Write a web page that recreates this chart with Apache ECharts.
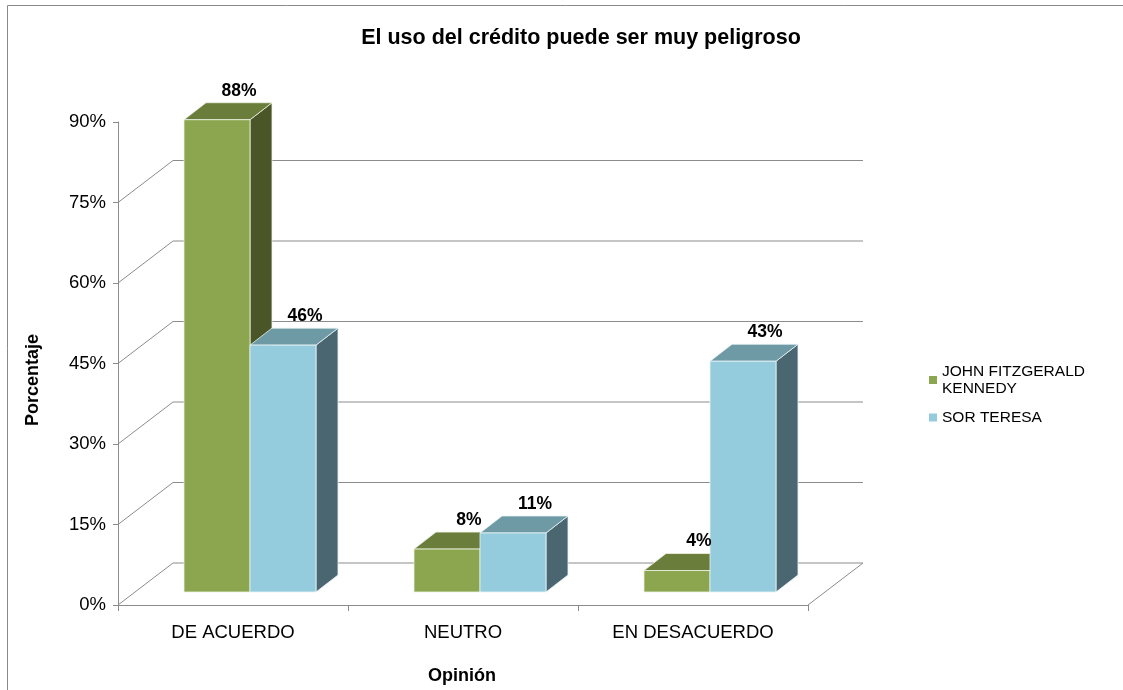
<!DOCTYPE html>
<html>
<head>
<meta charset="utf-8">
<title>El uso del crédito puede ser muy peligroso</title>
<script src="https://cdn.jsdelivr.net/npm/echarts@6/dist/echarts.min.js"></script>
<style>
    html, body { margin: 0; padding: 0; background: #fff; }
    #chart { width: 1123px; height: 690px; }
</style>
</head>
<body>
<div id="chart"></div>
<script>
var categories = ['DE ACUERDO', 'NEUTRO', 'EN DESACUERDO'];
var seriesNames = ['JOHN FITZGERALD KENNEDY', 'SOR TERESA'];
var kennedyValues = [88, 8, 4];
var teresaValues = [46, 11, 43];
var yTicks = [0, 15, 30, 45, 60, 75];

// depth of the 3d box (pixels)
var WALL_DX = 55, WALL_DY = -42;
var BAR_FRONT_DX = 17, BAR_FRONT_DY = -13;
var BAR_DX = 22, BAR_DY = -17;
var BAR_RATIO = 0.287;
var FONT = '"Liberation Sans", Arial, sans-serif';

var faces = [
    {front: '#8BA64F', top: '#6B7D3A', side: '#4A5628', edge: '#EEF3E6'},
    {front: '#94CCDD', top: '#6E9AA6', side: '#4A6670', edge: '#EAF4F7'}
];

var myChart = echarts.init(document.getElementById('chart'));

function renderWall(params, api) {
    var cs = params.coordSys;
    var v = api.value(1);
    var y = api.coord([0, v])[1];
    var x = cs.x;
    var children = [{
        type: 'polyline',
        shape: {points: [[x, y], [x + WALL_DX, y + WALL_DY], [x + cs.width + WALL_DX, y + WALL_DY]]},
        style: {stroke: '#8c8c8c', lineWidth: 1, fill: null}
    }];
    if (v === 0) {
        children.push({
            type: 'line',
            shape: {x1: x + cs.width, y1: y, x2: x + cs.width + WALL_DX, y2: y + WALL_DY},
            style: {stroke: '#8c8c8c', lineWidth: 1}
        });
    }
    return {type: 'group', children: children};
}

function makeBarRenderer(idx) {
    return function (params, api) {
        var f = faces[idx];
        var i = api.value(0);
        var v = api.value(1);
        var center = api.coord([i, 0]);
        var w = api.size([1, 0])[0] * BAR_RATIO;
        var x0 = center[0] + BAR_FRONT_DX + (idx === 0 ? -w : 0);
        var x1 = x0 + w;
        var yBot = center[1] + BAR_FRONT_DY;
        var yTop = api.coord([i, v])[1] + BAR_FRONT_DY;
        return {
            type: 'group',
            children: [
                {
                    type: 'polygon',
                    shape: {points: [[x1, yTop], [x1 + BAR_DX, yTop + BAR_DY], [x1 + BAR_DX, yBot + BAR_DY], [x1, yBot]]},
                    style: {fill: f.side, stroke: f.edge, lineWidth: 0.8}
                },
                {
                    type: 'polygon',
                    shape: {points: [[x0, yTop], [x1, yTop], [x1 + BAR_DX, yTop + BAR_DY], [x0 + BAR_DX, yTop + BAR_DY]]},
                    style: {fill: f.top, stroke: f.edge, lineWidth: 0.8}
                },
                {
                    type: 'rect',
                    shape: {x: x0, y: yTop, width: w, height: yBot - yTop},
                    style: {fill: f.front, stroke: f.edge, lineWidth: 0.8}
                },
                {
                    type: 'text',
                    z2: 50,
                    style: {
                        text: v + '%',
                        x: (x0 + x1) / 2 + BAR_DX,
                        y: yTop + BAR_DY - 12,
                        align: 'center',
                        verticalAlign: 'middle',
                        fill: '#000',
                        font: 'bold 17.5px ' + FONT
                    }
                }
            ]
        };
    };
}

var option = {
    animation: false,
    backgroundColor: '#fff',
    textStyle: {fontFamily: FONT},
    graphic: [
        {
            type: 'rect',
            shape: {x: 7.5, y: 5.5, width: 1130, height: 700},
            style: {fill: null, stroke: '#8a8a8a', lineWidth: 1},
            silent: true
        },
        {
            type: 'text',
            x: 581, y: 38,
            style: {
                text: 'El uso del crédito puede ser muy peligroso', align: 'center', verticalAlign: 'middle',
                fill: '#000', font: 'bold 21.5px ' + FONT
            }
        },
        {
            type: 'text',
            x: 33, y: 380,
            rotation: Math.PI / 2,
            style: {
                text: 'Porcentaje', align: 'center', verticalAlign: 'middle', fill: '#000',
                font: 'bold 18px ' + FONT
            }
        },
        {
            type: 'text',
            x: 462, y: 676,
            style: {
                text: 'Opinión', align: 'center', verticalAlign: 'middle', fill: '#000',
                font: 'bold 18px ' + FONT
            }
        }
    ],
    legend: {
        orient: 'vertical',
        left: 924,
        top: 358,
        itemWidth: 8,
        itemHeight: 8,
        itemGap: 12,
        icon: 'rect',
        data: seriesNames,
        formatter: function (name) {
            return name.replace('FITZGERALD ', 'FITZGERALD\n');
        },
        textStyle: {fontSize: 15.5, color: '#000', lineHeight: 17, fontFamily: FONT}
    },
    grid: {left: 118, top: 122, width: 690, height: 483},
    xAxis: {
        type: 'category',
        data: categories,
        axisLine: {show: true, lineStyle: {color: '#8c8c8c'}},
        axisTick: {show: true, length: 6, lineStyle: {color: '#8c8c8c'}},
        axisLabel: {fontSize: 18.5, color: '#000', margin: 18},
        splitLine: {show: false}
    },
    yAxis: {
        type: 'value',
        min: 0,
        max: 90,
        interval: 15,
        axisLine: {show: true, lineStyle: {color: '#8c8c8c'}},
        axisTick: {show: true, length: 5, lineStyle: {color: '#8c8c8c'}},
        axisLabel: {fontSize: 18.5, color: '#000', margin: 12, formatter: '{value}%'},
        splitLine: {show: false}
    },
    series: [
        {
            name: 'wall',
            type: 'custom',
            renderItem: renderWall,
            encode: {x: 0, y: 1},
            silent: true,
            data: yTicks.map(function (v) { return [0, v]; })
        },
        {
            name: seriesNames[0],
            type: 'custom',
            renderItem: makeBarRenderer(0),
            encode: {x: 0, y: 1},
            itemStyle: {color: faces[0].front},
            data: kennedyValues.map(function (v, i) { return [i, v]; })
        },
        {
            name: seriesNames[1],
            type: 'custom',
            renderItem: makeBarRenderer(1),
            encode: {x: 0, y: 1},
            itemStyle: {color: faces[1].front},
            data: teresaValues.map(function (v, i) { return [i, v]; })
        }
    ]
};
myChart.setOption(option);
</script>
</body>
</html>
